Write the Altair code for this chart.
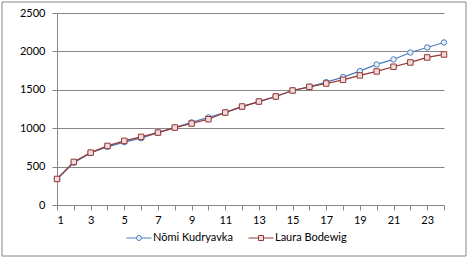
import altair as alt
import pandas as pd

days = list(range(1, 25))
nomi = [339, 552, 678, 758, 818, 870, 943, 1008, 1075, 1140, 1204, 1282, 1347, 1413,
        1491, 1539, 1600, 1665, 1743, 1830, 1895, 1986, 2051, 2116]
laura = [339, 561, 682, 769, 835, 887, 943, 1008, 1061, 1117, 1204, 1282, 1347, 1413,
         1491, 1539, 1582, 1630, 1687, 1739, 1800, 1856, 1921, 1960]
series_names = ["Nõmi Kudryavka", "Laura Bodewig"]
y_ticks = [0, 500, 1000, 1500, 2000, 2500]

GRAY = "#868686"
FONT = "Lato"
FS = 11

df_n = pd.DataFrame({"day": days, "value": nomi, "series": series_names[0]})
df_l = pd.DataFrame({"day": days, "value": laura, "series": series_names[1]})

circle_path = ("M-1,0H-0.2M0.2,0H1M-0.2,0A0.2,0.2,0,1,1,0.2,0"
               "A0.2,0.2,0,1,1,-0.2,0Z")
square_path = "M-1,0H-0.2M0.2,0H1M-0.2,-0.2H0.2V0.2H-0.2Z"


def series_layer(df, name, color, shape, fill, sym_path, legend_x):
    color_enc = alt.Color(
        "series:N",
        scale=alt.Scale(domain=[name], range=[color]),
        legend=alt.Legend(
            title=None, orient="none", legendX=legend_x, legendY=212,
            symbolType=sym_path, symbolSize=625, symbolStrokeWidth=1,
            symbolFillColor=fill, symbolStrokeColor=color,
            labelFont=FONT, labelFontSize=FS, labelColor="#000000",
            labelOffset=1, padding=0,
        ),
    )
    base = alt.Chart(df).encode(
        x=alt.X("day:Q", scale=alt.Scale(domain=[1, 24], nice=False, zero=False),
                axis=alt.Axis(values=days, title=None, grid=False,
                              labelExpr="datum.value % 2 == 1 ? datum.label : ''")),
        y=alt.Y("value:Q", scale=alt.Scale(domain=[0, 2500], nice=False),
                axis=alt.Axis(values=y_ticks, title=None, grid=True, format="d")),
        color=color_enc,
    )
    line = base.mark_line(strokeWidth=1.25)
    pts = base.mark_point(shape=shape, filled=False, fill=fill, size=30,
                          strokeWidth=1, opacity=1)
    return alt.layer(line, pts)


border = alt.Chart(pd.DataFrame({"a": [0]})).mark_rect(
    fill=None, stroke=GRAY, strokeWidth=1, clip=False
).encode(x=alt.value(-55), x2=alt.value(409), y=alt.value(-11), y2=alt.value(243))

blue_layer = series_layer(df_n, series_names[0], "#4A7EBB", "circle", "#E6EEF8",
                          circle_path, 69)
red_layer = series_layer(df_l, series_names[1], "#953735", "square", "#F2DCDB",
                         square_path, 191)

chart = alt.layer(border, blue_layer, red_layer).resolve_scale(
    color="independent"
).properties(
    width=387, height=192,
    autosize=alt.AutoSizeParams(type="none"),
    padding={"left": 57, "top": 13, "right": 24, "bottom": 53},
).configure_view(stroke=None).configure_axis(
    domainColor=GRAY, tickColor=GRAY, gridColor=GRAY, tickSize=5,
    labelFont=FONT, labelFontSize=FS, labelColor="#000000", labelAngle=0,
).configure_axisY(labelPadding=7).configure_axisX(labelPadding=4)

chart.save("out.html", embed_options={"renderer": "svg", "actions": False})
